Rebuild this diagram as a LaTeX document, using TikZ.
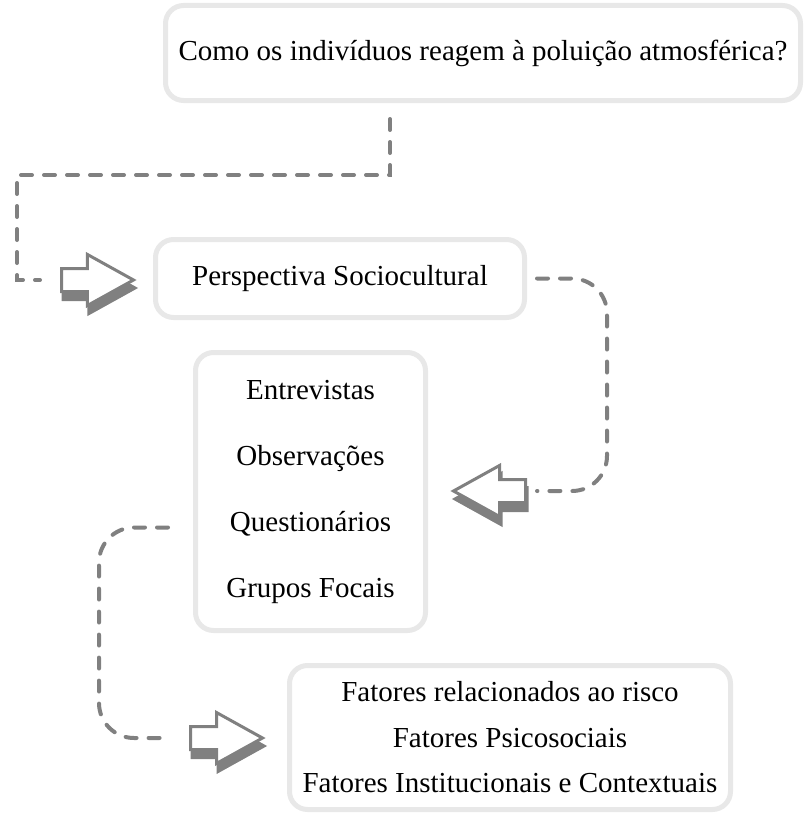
\documentclass[tikz,border=0pt]{standalone}
\usepackage{fontspec}
\setmainfont{Liberation Serif}
\usetikzlibrary{shapes.arrows,shadows,calc}
\definecolor{boxgray}{RGB}{232,232,232}
\definecolor{linegray}{RGB}{128,128,128}
\begin{document}
\begin{tikzpicture}[x=1pt,y=-1pt,
  box/.style={draw=boxgray, line width=5pt, rounded corners=18pt, fill=white,
    inner sep=0pt, align=center, font=\fontsize{29}{34}\selectfont},
  conn/.style={draw=linegray, line width=4pt, line cap=round, dash pattern=on 11pt off 12pt},
  barrow/.style={single arrow, draw=linegray, fill=white, line width=3pt,
    minimum height=72pt, inner xsep=0pt, inner ysep=10pt,
    single arrow head extend=14pt, single arrow tip angle=58, anchor=tail,
    copy shadow={shadow xshift=1.5pt, shadow yshift=-8pt, fill=linegray, draw=linegray}}]
\useasboundingbox (0,0) rectangle (804,816);

\node[box, minimum width=635pt, minimum height=95pt] (q) at (483,53)
  {Como os indivíduos reagem à poluição atmosférica?};
\node[box, minimum width=369pt, minimum height=78pt] (p) at (340,278.5)
  {Perspectiva Sociocultural};
\node[box, minimum width=230pt, minimum height=278pt, font=\fontsize{29}{66}\selectfont] (m) at (310.5,491.5)
  {Entrevistas\\Observações\\Questionários\\Grupos Focais};
\node[box, minimum width=441pt, minimum height=144pt, font=\fontsize{29}{45.5}\selectfont] (f) at (510,737.5)
  {Fatores relacionados ao risco\\Fatores Psicosociais\\Fatores Institucionais e Contextuais};

\node[barrow] (a1) at (60,280) {};
\node[barrow, shape border rotate=180] (a2) at (527,491) {};
\node[barrow] (a3) at (189,738) {};

\draw[conn] ([xshift=-93pt,yshift=-16pt]q.south) -- ++(0,56)
  -| ([xshift=-43pt]a1.tail) -- ([xshift=-20pt]a1.tail);
\draw[conn, rounded corners=35pt] ([xshift=10pt]p.east)
  -| ([xshift=80pt]a2.tail) -- ([xshift=10pt]a2.tail);
\draw[conn, rounded corners=35pt] ([xshift=-25pt,yshift=-36pt]m.west)
  -| ([xshift=-90pt]a3.tail) -- ([xshift=-21pt]a3.tail);
\end{tikzpicture}
\end{document}
